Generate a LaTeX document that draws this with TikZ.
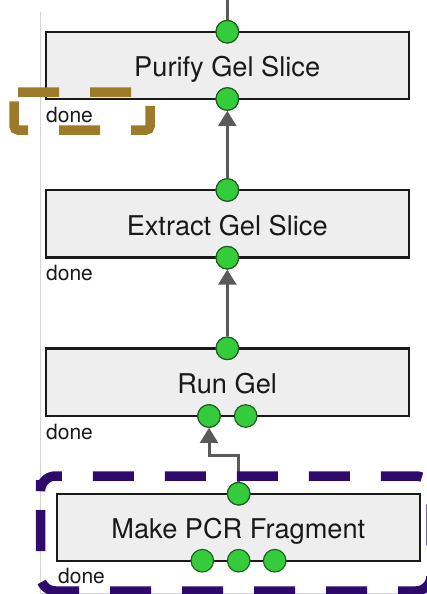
\documentclass[tikz,border=0pt]{standalone}
\usepackage{fontspec}
\setmainfont{TeX Gyre Heros}
\usetikzlibrary{arrows.meta}

\definecolor{boxfill}{HTML}{EEEEEE}
\definecolor{boxline}{HTML}{1A1A1A}
\definecolor{portfill}{HTML}{34CC3A}
\definecolor{portline}{HTML}{1E5A1E}
\definecolor{flowgray}{HTML}{5A5A5A}
\definecolor{framegray}{HTML}{D4D4D4}
\definecolor{goldmark}{HTML}{9C7A2A}
\definecolor{purplemark}{HTML}{2D0A6C}

\tikzset{
  stepbox/.style={draw=boxline, line width=2.2pt, fill=boxfill, rectangle,
    minimum width=363pt, minimum height=67.3pt, inner sep=0pt,
    text height=23pt, text depth=0pt, text=black!90,
    font=\fontsize{27.2}{31}\selectfont},
  port/.style={circle, draw=portline, line width=1.1pt, fill=portfill,
    minimum size=22.6pt, inner sep=0pt},
  flow/.style={draw=flowgray, line width=3pt,
    -{Triangle[length=15pt, width=17.7pt]}},
  wire/.style={draw=flowgray, line width=3pt},
  status/.style={anchor=base west, inner sep=0pt, text=black!90,
    font=\fontsize{21}{25}\selectfont},
  selmark/.style={line width=9.5pt, dash pattern=on 41pt off 31pt,
    rounded corners=#1},
}

\begin{document}
\begin{tikzpicture}[x=1pt, y=-1pt]
  \useasboundingbox (0,0) rectangle (427,594);

  % thin frame lines along the left and bottom
  \coordinate (frametop) at (40.5,12);
  \coordinate (framecorner) at (40.5,593);
  \coordinate (frameright) at (427,593);
  \draw[framegray, line width=1pt] (frametop) -- (framecorner) -- (frameright);

  % process steps
  \node[stepbox] (purify)  at (227.2,65.35)  {Purify Gel Slice};
  \node[stepbox] (extract) at (227.2,223.85) {Extract Gel Slice};
  \node[stepbox] (rungel)  at (227.2,382.15) {Run Gel};
  \node[stepbox, minimum height=67pt] (makepcr) at (238.3,527.2) {Make PCR Fragment};

  % ports
  \node[port] (pIn)  at (227.3,31.7)  {};
  \node[port] (pOut) at (227.3,99)    {};
  \node[port] (eIn)  at (227.3,190)   {};
  \node[port] (eOut) at (227.3,257.7) {};
  \node[port] (rIn)  at (227.3,348.3) {};
  \node[port] (rOutA) at (209,416)    {};
  \node[port] (rOutB) at (245.7,416)  {};
  \node[port] (mIn)  at (238.7,493.7) {};
  \node[port] (mOutA) at (202.3,560.7) {};
  \node[port] (mOutB) at (238.7,560.7) {};
  \node[port] (mOutC) at (274.7,560.7) {};

  % connectors
  \coordinate (topend) at (227.3,0);
  \coordinate (bendA) at (238.7,455);
  \coordinate (bendB) at (209,455);
  \draw[wire] (pIn) -- (topend);
  \draw[flow] (eIn) -- (pOut);
  \draw[flow] (rIn) -- (eOut);
  \draw[flow] (mIn) -- (bendA) -- (bendB) -- (rOutA);

  % redraw ports over the connector ends
  \foreach \p in {pIn,pOut,eIn,eOut,rIn,rOutA,mIn}
    \node[port] at (\p) {};

  % selection marks
  \draw[goldmark, selmark=4pt]
    (14,92) -- (150,92) -- (150,130) -- (14,130) -- cycle;
  \draw[purplemark, selmark=15pt]
    (40.5,495) -- (40.5,476) -- (431,476) -- (431,591) -- (40.5,591) -- cycle;

  % status labels
  \node[status] (pDone) at (46,122.7) {done};
  \node[status] (eDone) at (46,280)   {done};
  \node[status] (rDone) at (46,439)   {done};
  \node[status] (mDone) at (58,583.3) {done};
\end{tikzpicture}
\end{document}
